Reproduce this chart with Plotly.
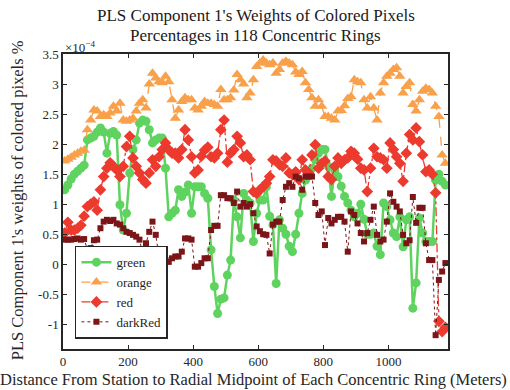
import plotly.graph_objects as go

# ring midpoints (m): 118 concentric rings, 10 m wide
n_rings = 118
distance = [5 + 10 * i for i in range(n_rings)]

green = [1.24,1.32,1.42,1.50,1.55,1.60,1.65,2.07,2.10,2.13,2.20,2.27,2.20,1.85,2.18,2.21,2.15,0.99,0.57,0.85,
         1.52,1.91,2.07,2.35,2.40,2.38,2.24,2.02,2.07,2.10,2.10,1.60,0.79,0.85,0.90,1.24,1.13,1.20,1.32,0.85,
         1.29,1.29,1.29,1.18,1.10,
         0.24,-0.37,-0.82,-0.58,-0.56,-0.18,0.07,1.07,0.79,0.44,1.18,1.07,1.02,0.38,0.85,1.07,1.07,1.29,0.80,0.66,
         -0.32,0.74,0.60,0.50,0.30,0.21,0.50,0.85,1.18,1.40,1.50,1.60,1.74,1.85,1.91,1.91,1.63,1.13,1.57,1.46,
         1.30,1.13,1.02,0.90,0.79,0.85,1.00,0.75,0.50,0.50,0.52,0.30,0.16,1.02,0.96,0.74,0.52,0.46,0.79,0.29,
         0.74,0.79,-0.73,-0.31,0.77,0.52,0.38,0.38,0.38,1.40,1.50,1.38,1.32]

orange = [1.72,1.75,1.78,1.82,1.85,1.88,1.90,2.24,2.40,2.57,2.55,2.46,2.49,2.46,2.52,2.63,2.55,2.68,2.40,2.38,
          2.40,2.43,2.55,2.68,2.74,2.60,3.00,3.18,3.10,3.04,3.02,3.13,3.04,2.74,2.43,2.57,2.71,2.77,2.74,2.74,
          2.60,2.57,2.63,2.71,2.68,
          2.68,2.66,2.63,2.91,2.74,2.74,2.77,2.90,3.16,3.07,3.00,2.77,2.85,3.07,3.29,3.35,3.40,3.35,3.32,3.35,
          3.18,3.24,3.35,3.38,3.35,3.32,3.20,3.16,3.21,3.02,2.91,2.77,2.63,2.74,2.63,2.46,2.46,2.43,2.40,2.55,
          2.56,2.64,2.76,2.79,3.07,3.04,3.02,2.74,2.60,2.79,2.60,2.40,2.85,3.02,3.13,3.18,3.24,3.27,3.13,2.85,
          2.96,3.02,2.66,2.55,2.74,2.88,2.93,2.91,2.85,2.63,2.46,1.82,1.68]

red = [0.52,0.70,0.57,0.57,0.60,0.65,0.80,0.96,1.00,1.04,0.90,1.24,1.46,1.60,1.69,1.63,1.57,1.46,1.63,1.96,
       2.13,1.77,1.63,1.52,1.41,1.35,1.52,1.74,1.63,1.79,1.91,2.02,1.91,1.85,1.85,1.77,1.91,2.24,2.07,1.79,
       1.52,1.57,1.80,1.90,1.95,
       1.79,1.77,1.85,2.24,2.40,1.70,1.85,1.91,2.13,2.02,1.79,1.82,1.74,1.21,1.18,1.24,1.29,1.35,1.46,1.74,
       1.72,1.66,1.63,1.77,1.52,1.49,1.54,1.41,1.74,1.57,1.52,1.82,1.99,1.60,1.68,1.72,1.46,1.41,1.63,1.77,
       1.68,1.74,1.77,1.88,1.85,1.75,1.60,1.57,1.21,1.60,1.93,1.79,1.77,1.74,1.60,2.02,1.91,1.79,1.68,1.38,
       1.85,2.16,2.07,2.27,2.04,1.82,1.54,1.57,1.50,1.19,-0.95,-1.12,-1.05]

dark_red = [0.41,0.41,0.41,0.42,0.43,0.41,0.42,0.24,0.27,0.40,0.41,0.60,0.71,0.74,0.72,0.74,0.68,0.66,0.60,0.54,
            0.52,0.49,0.46,0.41,0.18,0.35,0.54,0.71,0.49,0.13,0.10,0.07,0.04,0.10,0.13,0.13,0.21,0.43,0.43,0.41,
            -0.04,-0.04,0.02,0.10,0.10,
            0.57,0.64,0.64,1.15,1.15,1.10,1.10,1.02,1.21,0.96,1.02,0.96,1.00,0.85,0.63,0.55,0.50,0.49,0.18,0.66,
            0.71,0.71,1.07,1.29,1.35,1.29,1.46,1.43,1.24,1.46,1.46,1.46,1.02,0.82,0.88,0.32,0.77,0.68,0.74,0.79,
            0.79,0.71,0.21,0.88,0.82,0.68,0.52,0.38,0.52,0.74,0.96,0.49,0.38,0.41,0.71,1.18,1.04,0.96,0.88,0.49,
            0.35,0.40,1.12,0.69,0.94,0.94,0.35,0.07,0.07,-1.18,-0.26,-0.12,0.02]

x_ticks = [0, 200, 400, 600, 800, 1000]
y_ticks = [-1, -0.5, 0, 0.5, 1, 1.5, 2, 2.5, 3, 3.5]
y_tick_text = ["-1", "-0.5", "0", "0.5", "1", "1.5", "2", "2.5", "3", "3.5"]

FONT = "Liberation Serif, Times New Roman, serif"
TXT = "#262626"

series = [
    ("green", green, "#5fd35f", "solid", 2.5, "circle", 9),
    ("orange", orange, "#f9a04b", "dash", 1.3, "triangle-up", 10),
    ("red", red, "#ec3a2e", "dashdot", 1.3, "diamond", 9),
    ("darkRed", dark_red, "#7b1518", "dot", 1.0, "square", 6),
]

fig = go.Figure()
for name, ys, col, dash, lw, sym, ms in series:
    fig.add_trace(go.Scatter(
        x=distance, y=ys, name=name, mode="lines+markers",
        line=dict(color=col, dash=dash, width=lw),
        marker=dict(symbol=sym, size=ms, color=col, line=dict(width=0)),
    ))

axis_common = dict(
    showgrid=False, zeroline=False, showline=True, linecolor="#262626", linewidth=1.5,
    mirror="allticks", ticks="inside", ticklen=4, tickwidth=1.3, tickcolor="#262626",
    tickfont=dict(family=FONT, size=13, color=TXT),
)

fig.update_layout(
    width=510, height=390,
    margin=dict(l=63, r=62, t=54, b=41),
    paper_bgcolor="white", plot_bgcolor="white",
    xaxis=dict(range=[0, 1183], tickvals=x_ticks, **axis_common),
    yaxis=dict(range=[-1.41, 3.5], tickvals=y_ticks, ticktext=y_tick_text, **axis_common),
    showlegend=True,
    legend=dict(
        x=0.031, y=0.035, xanchor="left", yanchor="bottom",
        bgcolor="white", bordercolor="#262626", borderwidth=1.5,
        font=dict(family=FONT, size=13, color=TXT), tracegroupgap=0,
    ),
    annotations=[
        dict(text="PLS Component 1's Weights of Colored Pixels", xref="paper", yref="paper",
             x=0.5, y=1.129, xanchor="center", yanchor="middle", showarrow=False,
             font=dict(family=FONT, size=17, color="#1a1a1a")),
        dict(text="Percentages in 118 Concentric Rings", xref="paper", yref="paper",
             x=0.5, y=1.064, xanchor="center", yanchor="middle", showarrow=False,
             font=dict(family=FONT, size=17, color="#1a1a1a")),
        dict(text="×10<sup>−4</sup>", xref="paper", yref="paper",
             x=0.0, y=1.025, xanchor="left", yanchor="middle", showarrow=False,
             font=dict(family=FONT, size=13, color=TXT)),
        dict(text="PLS Component 1's weights of colored pixels %", xref="paper", yref="paper",
             x=-0.119, y=0.505, xanchor="center", yanchor="middle", textangle=-90, showarrow=False,
             font=dict(family=FONT, size=16.5, color=TXT)),
        dict(text="Distance From Station to Radial Midpoint of Each Concentric Ring (Meters)",
             xref="paper", yref="paper", x=0.496, y=-0.105, xanchor="center", yanchor="middle",
             showarrow=False, font=dict(family=FONT, size=16.5, color=TXT)),
    ],
)

fig.write_html("out.html")
